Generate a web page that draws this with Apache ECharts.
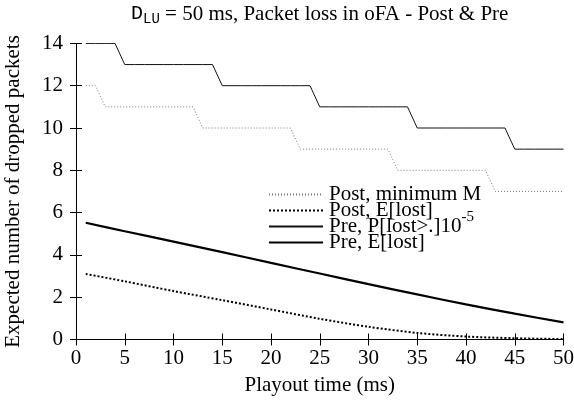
<!DOCTYPE html>
<html>
<head>
<meta charset="utf-8">
<script src="https://cdn.jsdelivr.net/npm/echarts@6/dist/echarts.min.js"></script>
<style>html,body{margin:0;padding:0;background:#fff}#c{width:574px;height:411px}</style>
</head>
<body>
<div id="c"></div>
<script>
// ---- data ----
var stepTimes = [1,2,3,4,5,6,7,8,9,10,11,12,13,14,15,16,17,18,19,20,21,22,23,24,25,26,27,28,29,30,31,32,33,34,35,36,37,38,39,40,41,42,43,44,45,46,47,48,49,50];
var postMinM  = [12,12,11,11,11,11,11,11,11,11,11,11,10,10,10,10,10,10,10,10,10,10,9,9,9,9,9,9,9,9,9,9,8,8,8,8,8,8,8,8,8,8,7,7,7,7,7,7,7,7];
var prePLost  = [14,14,14,14,13,13,13,13,13,13,13,13,13,13,12,12,12,12,12,12,12,12,12,12,11,11,11,11,11,11,11,11,11,11,10,10,10,10,10,10,10,10,10,10,9,9,9,9,9,9];
var eTimes    = [1,5,10,15,20,25,30,35,40,45,50];
var postELost = [3.10,2.75,2.29,1.86,1.42,0.98,0.60,0.31,0.14,0.06,0.02];
var preELost  = [5.52,5.12,4.63,4.13,3.62,3.12,2.62,2.13,1.66,1.22,0.81];
var xTicks = [0,5,10,15,20,25,30,35,40,45,50];
var yTicks = [0,2,4,6,8,10,12,14];
var names = ['Post, minimum M','Post, E[lost]','Pre, P[lost>.]10^-5','Pre, E[lost]'];

function zip(xs, ys){ return xs.map(function(x,i){ return [x, ys[i]]; }); }

var serif = 'Liberation Serif';
var chart = echarts.init(document.getElementById('c'), null, {renderer:'canvas'});
var axisCommon = {
  type:'value', axisLine:{show:true,lineStyle:{color:'#000',width:1}},
  axisTick:{show:true,inside:true,length:6,lineStyle:{color:'#000'}},
  splitLine:{show:false}
};
chart.setOption({
  animation:false,
  backgroundColor:'#fff',
  title:{
    text:'{m|D}{s|LU}{t| = 50 ms, Packet loss in oFA - Post & Pre}',
    left:126, top:-1,
    textStyle:{
      fontWeight:'normal',
      rich:{
        m:{fontFamily:'Liberation Mono',fontSize:20,fontWeight:'normal',color:'#000',lineHeight:22,verticalAlign:'top'},
        s:{fontFamily:'Liberation Mono',fontSize:14,fontWeight:'normal',color:'#000',lineHeight:22,verticalAlign:'top',padding:[8,0,0,0]},
        t:{fontFamily:serif,fontSize:21,fontWeight:'normal',color:'#000',lineHeight:22,verticalAlign:'top'}
      }
    }
  },
  grid:{left:76,right:10.5,top:43.4,bottom:71.5,containLabel:false,outerBoundsMode:'none'},
  legend:{
    orient:'vertical', left:263, top:173, itemWidth:54, itemHeight:10, itemGap:-11,
    itemStyle:{opacity:0},
    data:names,
    formatter:function(n){
      if(n.indexOf('^')>=0){ var p=n.split('^'); return '{a|'+p[0]+'}{b|'+p[1]+'}'; }
      return '{a|'+n+'}{b| }';
    },
    textStyle:{
      rich:{
        a:{fontFamily:serif,fontSize:21,color:'#000',lineHeight:33,padding:[0,0,0,1]},
        b:{fontFamily:serif,fontSize:15,color:'#000',lineHeight:33,verticalAlign:'top'}
      }
    }
  },
  xAxis:[
    Object.assign({}, axisCommon, {position:'bottom',min:0,max:50,interval:5,
      name:'Playout time (ms)',nameLocation:'middle',nameGap:35,
      nameTextStyle:{fontFamily:serif,fontSize:21,color:'#000'},
      axisLabel:{margin:8,fontFamily:serif,fontSize:21,color:'#000',
        customValues:xTicks}}),
    Object.assign({}, axisCommon, {position:'top',min:0,max:50,interval:5,axisLabel:{show:false}})
  ],
  yAxis:[
    Object.assign({}, axisCommon, {position:'left',min:0,max:14,interval:2,
      name:'Expected number of dropped packets',nameLocation:'middle',nameGap:52,nameRotate:90,
      nameTextStyle:{fontFamily:serif,fontSize:21,color:'#000'},
      axisLabel:{margin:13,fontFamily:serif,fontSize:21,color:'#000'}}),
    Object.assign({}, axisCommon, {position:'right',min:0,max:14,interval:2,axisLabel:{show:false}})
  ],
  series:[
    {name:names[0],type:'line',symbol:'none',data:zip(stepTimes,postMinM),
      lineStyle:{color:'#777',width:1,type:[1,2]},itemStyle:{color:'#777'}},
    {name:names[1],type:'line',symbol:'none',smooth:0.3,data:zip(eTimes,postELost),
      lineStyle:{color:'#000',width:2,type:[2,2]},itemStyle:{color:'#000'}},
    {name:names[2],type:'line',symbol:'none',data:zip(stepTimes,prePLost),
      lineStyle:{color:'#111',width:1},itemStyle:{color:'#111'}},
    {name:names[3],type:'line',symbol:'none',smooth:0.3,data:zip(eTimes,preELost),
      lineStyle:{color:'#000',width:2.2},itemStyle:{color:'#000'}}
  ]
});
</script>
</body>
</html>
